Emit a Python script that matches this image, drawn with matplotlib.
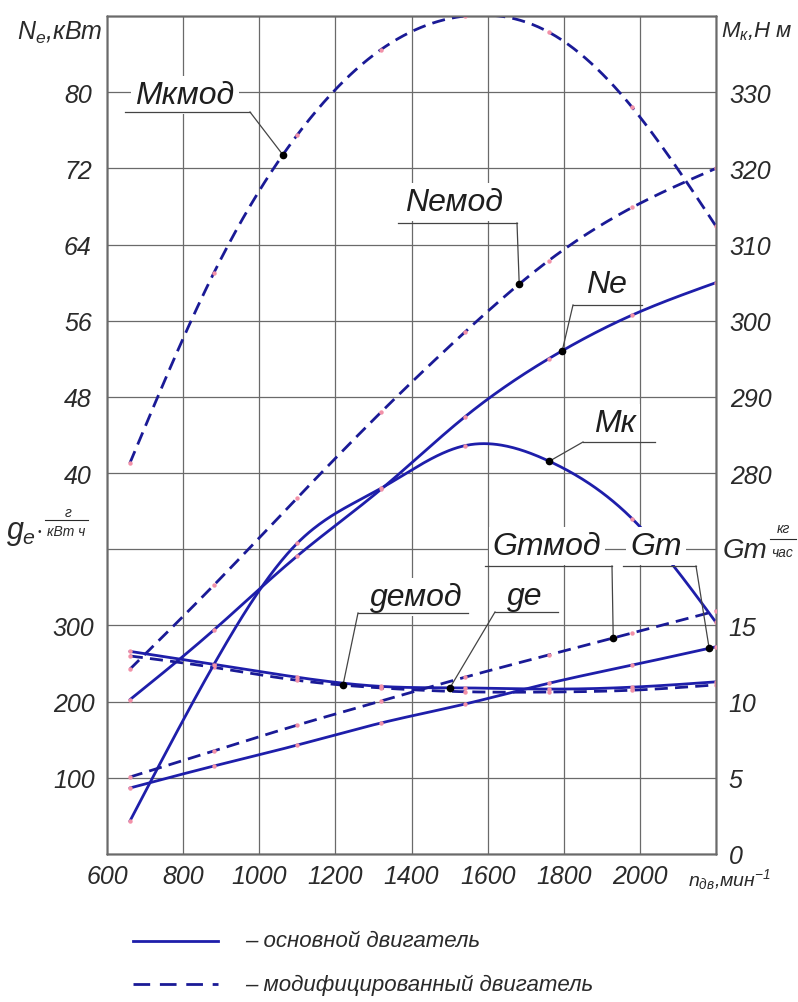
import numpy as np
import matplotlib
matplotlib.use("Agg")
import matplotlib.pyplot as plt
from matplotlib.lines import Line2D

# ---------------- data ----------------
rpm = [660, 880, 1100, 1320, 1540, 1760, 1980, 2200]
Ne = [16.2, 23.5, 31.3, 38.3, 45.9, 52.0, 56.6, 60.0]            # kW, base
Ne_mod = [19.4, 28.2, 37.4, 46.4, 54.8, 62.3, 67.9, 72.0]        # kW, modified
Mk = [234.3, 254.8, 270.8, 278.0, 283.6, 281.6, 274.0, 260.4]    # N m, base
Mk_mod = [281.3, 306.2, 324.4, 335.6, 340.0, 337.9, 328.0, 312.4]
ge = [266, 249, 232, 220, 218, 216.5, 219, 226]                   # g/kWh
ge_mod = [260, 245, 228, 218, 213, 212.6, 215, 222]
Gm = [4.33, 5.77, 7.15, 8.6, 9.84, 11.2, 12.4, 13.6]              # kg/h
Gm_mod = [5.05, 6.76, 8.46, 10.04, 11.6, 13.06, 14.5, 15.95]

x_ticks = [600, 800, 1000, 1200, 1400, 1600, 1800, 2000, 2200]
x_ticklabels = ["600", "800", "1000", "1200", "1400", "1600", "1800", "2000", ""]
ne_ticks = [0, 8, 16, 24, 32, 40, 48, 56, 64, 72, 80, 88]
ne_labels = ["", "", "", "", "", "40", "48", "56", "64", "72", "80", ""]
ge_ticks = [100, 200, 300]
mk_ticks = [280, 290, 300, 310, 320, 330]
gm_ticks = [0, 5, 10, 15]

# ---------------- style ----------------
FONT = ["Liberation Sans", "DejaVu Sans"]
plt.rcParams["font.family"] = FONT
plt.rcParams["font.style"] = "italic"
plt.rcParams["mathtext.fontset"] = "custom"
plt.rcParams["mathtext.rm"] = "Liberation Sans:italic"
plt.rcParams["mathtext.it"] = "Liberation Sans:italic"

TXT = "#2a2a2a"
GRID = "#6a6a6a"
BLUE = "#1e1eaa"
DBLUE = "#1a1a96"
PINK = "#f291a8"
LW = 2.0
DASH = (4.7, 2.6)
TICK = 18


def spline(x, y, xs):
    """natural cubic spline used only to draw a smooth path through the read points"""
    x = np.asarray(x, float)
    y = np.asarray(y, float)
    n = len(x)
    h = np.diff(x)
    A = np.zeros((n, n))
    b = np.zeros(n)
    A[0, 0] = A[-1, -1] = 1
    for i in range(1, n - 1):
        A[i, i - 1] = h[i - 1]
        A[i, i] = 2 * (h[i - 1] + h[i])
        A[i, i + 1] = h[i]
        b[i] = 6 * ((y[i + 1] - y[i]) / h[i] - (y[i] - y[i - 1]) / h[i - 1])
    M = np.linalg.solve(A, b)
    xs = np.asarray(xs, float)
    k = np.clip(np.searchsorted(x, xs) - 1, 0, n - 2)
    t1 = x[k + 1] - xs
    t0 = xs - x[k]
    hk = h[k]
    return (M[k] * t1 ** 3 / (6 * hk) + M[k + 1] * t0 ** 3 / (6 * hk)
            + (y[k] / hk - M[k] * hk / 6) * t1 + (y[k + 1] / hk - M[k + 1] * hk / 6) * t0)


W, H = 798, 1003
fig = plt.figure(figsize=(W / 100, H / 100), dpi=100)
L, R, T, B = 107, 716, 17, 855
ax = fig.add_axes([L / W, 1 - B / H, (R - L) / W, (B - T) / H])
ax.set_xlim(600, 2200)
ax.set_ylim(0, 88)
ax_ge = ax.twinx()
ax_ge.set_ylim(0, 1100)
ax_mk = ax.twinx()
ax_mk.set_ylim(230, 340)
ax_gm = ax.twinx()
ax_gm.set_ylim(0, 55)

for a in (ax, ax_ge, ax_mk, ax_gm):
    for s in a.spines.values():
        s.set_color(GRID)
        s.set_linewidth(1.0)
    a.tick_params(length=0, labelsize=TICK, colors=TXT)

ax.set_xticks(x_ticks)
ax.set_xticklabels(x_ticklabels)
ax.set_yticks(ne_ticks)
ax.set_yticklabels(ne_labels)
ax.tick_params(axis="x", pad=7)
ax.tick_params(axis="y", pad=11)
ax.grid(True, color=GRID, lw=0.9)
ax.set_axisbelow(True)

ax_ge.yaxis.tick_left()
ax_ge.set_yticks(ge_ticks)
ax_ge.set_yticklabels([str(v) for v in ge_ticks])
ax_ge.tick_params(axis="y", pad=9)

ax_mk.set_yticks(mk_ticks)
ax_mk.set_yticklabels([str(v) for v in mk_ticks])
ax_mk.tick_params(axis="y", pad=10)

ax_gm.set_yticks(gm_ticks)
ax_gm.set_yticklabels([str(v) for v in gm_ticks])
ax_gm.tick_params(axis="y", pad=9)

xs = np.linspace(rpm[0], rpm[-1], 400)
series = [
    (ax, Ne, "-"), (ax, Ne_mod, "--"),
    (ax_mk, Mk, "-"), (ax_mk, Mk_mod, "--"),
    (ax_ge, ge, "-"), (ax_ge, ge_mod, "--"),
    (ax_gm, Gm, "-"), (ax_gm, Gm_mod, "--"),
]
for a, vals, ls in series:
    if ls == "-":
        a.plot(xs, spline(rpm, vals, xs), color=BLUE, lw=LW, solid_capstyle="round", zorder=2)
    else:
        a.plot(xs, spline(rpm, vals, xs), color=DBLUE, lw=LW, dashes=DASH, zorder=2)
    a.plot(rpm, vals, "o", ms=3.2, color=PINK, mec="none", zorder=3)


def fx(x):
    return x / W


def fy(y):
    return 1 - y / H


def data_px(a, vals, r):
    p = a.transData.transform((r, float(spline(rpm, vals, [r])[0])))
    return fig.transFigure.inverted().transform(p)


def callout(text, cx, cy, ul, target_ax, vals, r, start, size=23):
    fig.text(fx(cx), fy(cy), text, ha="center", va="center", fontsize=size, color="#1e1e1e",
             zorder=5, bbox=dict(fc="white", ec="none", pad=3))
    (x0, x1, yu) = ul
    fig.add_artist(Line2D([fx(x0), fx(x1)], [fy(yu), fy(yu)], transform=fig.transFigure,
                          color="#444", lw=0.9, zorder=6))
    q = data_px(target_ax, vals, r)
    sx = x0 if start == "l" else x1
    fig.add_artist(Line2D([fx(sx), q[0]], [fy(yu), q[1]], transform=fig.transFigure,
                          color="#444", lw=0.9, zorder=6))
    fig.add_artist(Line2D([q[0]], [q[1]], transform=fig.transFigure, marker="o", ms=4.5,
                          color="black", lw=0, zorder=7))


callout("Mкмод", 185, 96, (125, 250, 113), ax_mk, Mk_mod, 1062, "r")
callout("Nемод", 454, 203, (398, 517, 224), ax, Ne_mod, 1683, "r")
callout("Ne", 606, 285, (573, 642, 306), ax, Ne, 1796, "l")
callout("Mк", 615, 424, (583, 655, 443), ax_mk, Mk, 1762, "l")
callout("Gтмод", 547, 547, (485, 612, 567), ax_gm, Gm_mod, 1930, "r")
callout("Gт", 656, 547, (623, 696, 567), ax_gm, Gm, 2182, "r")
callout("gемод", 416, 598, (358, 468, 614), ax_ge, ge_mod, 1220, "l")
callout("gе", 525, 597, (495, 558, 613), ax_ge, ge, 1501, "l")

# axis titles
fig.text(fx(17), fy(33), r"$N_e$,кВт", fontsize=18, color=TXT, ha="left", va="center")
fig.text(fx(721), fy(32), r"$M_к$,Н м", fontsize=16, color=TXT, ha="left", va="center")
fig.text(fx(6), fy(539), r"$g_е$", fontsize=22, color=TXT, ha="left", va="baseline")
fig.text(fx(38), fy(535), "•", fontsize=7, color=TXT, ha="left", va="baseline")
fig.text(fx(66), fy(536), "кВт ч", fontsize=10, color=TXT, ha="center", va="baseline")
fig.text(fx(68), fy(517), "г", fontsize=10, color=TXT, ha="center", va="baseline")
fig.add_artist(Line2D([fx(45), fx(88)], [fy(521), fy(521)], transform=fig.transFigure, color=TXT, lw=0.8))
fig.text(fx(723), fy(558), "Gт", fontsize=20, color=TXT, ha="left", va="baseline")
fig.text(fx(783), fy(533), "кг", fontsize=10, color=TXT, ha="center", va="baseline")
fig.text(fx(782), fy(557), "час", fontsize=10, color=TXT, ha="center", va="baseline")
fig.add_artist(Line2D([fx(770), fx(796)], [fy(540), fy(540)], transform=fig.transFigure, color=TXT, lw=0.8))
fig.text(fx(688), fy(880), r"$n_{дв}$,мин$^{-1}$", fontsize=14, color=TXT, ha="left", va="center")

# legend
fig.add_artist(Line2D([fx(133), fx(218)], [fy(942), fy(942)], transform=fig.transFigure,
                      color=BLUE, lw=LW))
fig.add_artist(Line2D([fx(133), fx(218)], [fy(985), fy(985)], transform=fig.transFigure,
                      color=DBLUE, lw=LW, dashes=(6.0, 3.5)))
fig.text(fx(245), fy(942), "– основной двигатель", fontsize=16, color=TXT, ha="left", va="center")
fig.text(fx(245), fy(985), "– модифицированный двигатель", fontsize=16, color=TXT, ha="left", va="center")

fig.savefig("out.png", dpi=100, facecolor="white")
